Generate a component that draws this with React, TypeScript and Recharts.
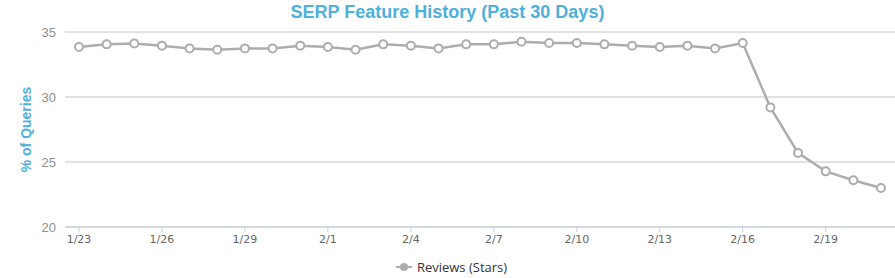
import { CartesianGrid, Legend, Line, LineChart, XAxis, YAxis } from "recharts";

const DATES = [
  "1/23", "1/24", "1/25", "1/26", "1/27", "1/28", "1/29", "1/30", "1/31",
  "2/1", "2/2", "2/3", "2/4", "2/5", "2/6", "2/7", "2/8", "2/9", "2/10",
  "2/11", "2/12", "2/13", "2/14", "2/15", "2/16", "2/17", "2/18", "2/19",
  "2/20", "2/21",
];

const REVIEWS = [
  33.85, 34.05, 34.12, 33.95, 33.74, 33.64, 33.74, 33.74, 33.95,
  33.85, 33.64, 34.05, 33.95, 33.74, 34.05, 34.05, 34.25, 34.15, 34.15,
  34.05, 33.95, 33.85, 33.95, 33.74, 34.15, 29.2, 25.7, 24.28,
  23.6, 23.0,
];

const Y_TICKS = [20, 25, 30, 35];

const LINE_COLOR = "#adadad";
const BLUE = "#4eb0dc";

const data = DATES.map((d, i) => ({ date: d, reviews: REVIEWS[i] }));

function LegendContent() {
  return (
    <div
      style={{
        display: "flex",
        justifyContent: "center",
        alignItems: "center",
        gap: 5,
        height: 18,
        paddingLeft: 8,
        fontFamily: "'Open Sans', sans-serif",
        fontSize: 13,
        color: "#333",
      }}
    >
      <svg width={16} height={12}>
        <line x1={0} x2={16} y1={6} y2={6} stroke={LINE_COLOR} strokeWidth={2} />
        <circle cx={8} cy={6} r={4} fill={LINE_COLOR} />
      </svg>
      Reviews (Stars)
    </div>
  );
}

export default function App() {
  return (
    <div style={{ position: "absolute", left: 0, top: 0, width: 895, height: 278 }}>
      <div
        style={{
          position: "absolute",
          left: 0,
          top: 0,
          width: 895,
          textAlign: "center",
          fontFamily: "'Liberation Sans', Arial, sans-serif",
          fontWeight: "bold",
          fontSize: 18,
          lineHeight: "24px",
          color: BLUE,
        }}
      >
        SERP Feature History (Past 30 Days)
      </div>
      <LineChart
        width={895}
        height={278}
        data={data}
        margin={{ top: 32, right: 0, left: 0, bottom: 8 }}
      >
        <CartesianGrid vertical={false} stroke="#c4c4c4" />
        <XAxis
          dataKey="date"
          interval={2}
          height={25}
          padding={{ left: 14, right: 14 }}
          stroke="#c0d0e0"
          tickSize={5}
          tickMargin={3}
          tick={{ fill: "#666", fontSize: 11, fontFamily: "'DejaVu Sans', sans-serif" }}
        />
        <YAxis
          width={65}
          domain={[20, 35]}
          ticks={Y_TICKS}
          axisLine={false}
          tickLine={false}
          tickSize={0}
          tickMargin={9}
          tick={{ fill: "#909090", fontSize: 13, fontFamily: "'Liberation Sans', Arial, sans-serif" }}
          label={{
            content: ({ viewBox }: any) => {
              const cx = viewBox.x + 26;
              const cy = viewBox.y + viewBox.height / 2;
              return (
                <text
                  x={cx}
                  y={cy}
                  transform={`rotate(-90 ${cx} ${cy})`}
                  textAnchor="middle"
                  dominantBaseline="central"
                  fill={BLUE}
                  fontWeight="bold"
                  fontSize={14}
                  fontFamily="'Liberation Sans', Arial, sans-serif"
                >
                  % of Queries
                </text>
              );
            },
          }}
        />
        <Legend
          verticalAlign="bottom"
          wrapperStyle={{ bottom: 2 }}
          content={<LegendContent />}
        />
        <Line
          type="linear"
          dataKey="reviews"
          name="Reviews (Stars)"
          stroke={LINE_COLOR}
          strokeWidth={2.5}
          dot={{ r: 4, fill: "#fff", stroke: LINE_COLOR, strokeWidth: 2 }}
          activeDot={false}
          isAnimationActive={false}
        />
      </LineChart>
    </div>
  );
}
